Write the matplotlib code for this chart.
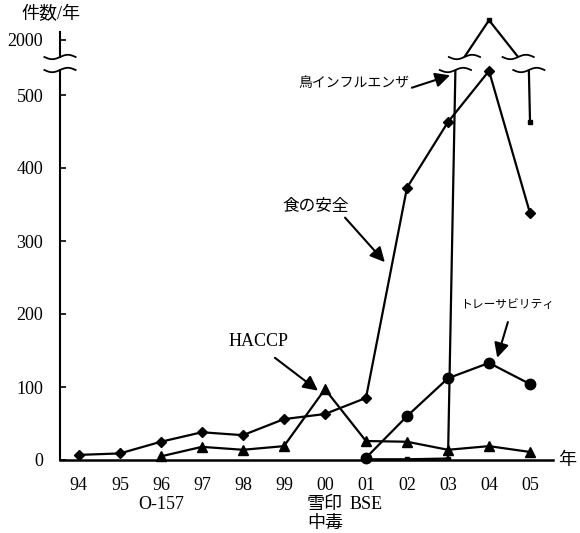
import numpy as np
import matplotlib
matplotlib.use('Agg')
import matplotlib.pyplot as plt

plt.rcParams['font.family'] = ['Liberation Serif', 'Noto Sans CJK JP']

# data (number of articles per year)
years = ['94', '95', '96', '97', '98', '99', '00', '01', '02', '03', '04', '05']
events = ['', '', 'O-157', '', '', '', '雪印\n中毒', 'BSE', '', '', '', '']
food_safety = [7, 9, 25, 38, 34, 56, 63, 85, 373, 463, 533, 338]
haccp = [np.nan, np.nan, 5, 18, 14, 19, 97, 26, 25, 14, 19, 11]
traceability = [np.nan] * 7 + [3, 60, 112, 133, 104]
bird_flu = [np.nan] * 7 + [1, 1, 2, 2950, 463]

x = np.arange(len(years))
W, H = 580, 533

fig = plt.figure(figsize=(W / 100, H / 100), dpi=100)
# lower part of the broken axis (0..~530) and the upper part (around 2000)
ax = fig.add_axes([60 / W, 73 / H, 493 / W, 390 / H])
axt = fig.add_axes([60 / W, (H - 57) / H, 493 / W, 42 / H], sharex=ax)

ax.set_xlim(-0.46, 11.56)
ax.set_ylim(0, 390 / 0.73)
axt.set_ylim(1184, 3200)

lw = 1.6
ax.plot(x, food_safety, color='black', lw=lw, marker='D', ms=5, clip_on=False)
ax.plot(x, haccp, color='black', lw=lw, marker='^', ms=7.5, clip_on=False)
ax.plot(x, traceability, color='black', lw=lw, marker='o', ms=7.5, clip_on=False)
ax.plot(x, bird_flu, color='black', lw=lw, marker='s', ms=3)
axt.plot(x, bird_flu, color='black', lw=lw, marker='s', ms=3)

# axes styling
for s in ['top', 'right']:
    ax.spines[s].set_visible(False)
for s in ['top', 'right', 'bottom']:
    axt.spines[s].set_visible(False)
ax.spines['left'].set_linewidth(1.5)
ax.spines['bottom'].set_linewidth(1.8)
axt.spines['left'].set_linewidth(1.5)
axt.spines['left'].set_bounds(1184, 2400)

ax.set_yticks([0, 100, 200, 300, 400, 500])
axt.set_yticks([2000])
for a in (ax, axt):
    a.tick_params(axis='y', direction='in', length=4, width=1.2, pad=12, labelsize=13)
axt.tick_params(axis='x', bottom=False, labelbottom=False)

labels = [y + ('\n' + e if e else '') for y, e in zip(years, events)]
ax.set_xticks(x)
ax.set_xticklabels(labels, fontsize=13, linespacing=1.15)
ax.tick_params(axis='x', length=0, pad=12)

# wavy break marks
def wave(a, xc, yax, half=0.38, amp_px=2.2):
    h = a.get_position().height * H
    t = np.linspace(-1, 1, 60)
    a.plot(xc + half * t, yax + (amp_px / h) * np.sin(np.pi * t),
           transform=a.get_xaxis_transform(), color='black', lw=1.3, clip_on=False)

def crossings(level):
    b = bird_flu
    left = 9 + (level - b[9]) / (b[10] - b[9])
    right = 10 + (b[10] - level) / (b[10] - b[11])
    return left, right

x0 = ax.get_xlim()[0]
wave(ax, x0, 1.0)
wave(axt, x0, 0.0)
for xc in crossings(ax.get_ylim()[1]):
    wave(ax, xc, 1.0)
for xc in crossings(axt.get_ylim()[0]):
    wave(axt, xc, 0.0)

# annotations
arrow = dict(arrowstyle='-|>', color='black', lw=1.5, mutation_scale=22,
             shrinkA=0, shrinkB=0)
ax.text(8.07, 516, '鳥インフルエンザ', fontsize=10, ha='right', va='center')
ax.annotate('', xy=(9.05, 527), xytext=(8.12, 510), arrowprops=arrow)

ax.text(5.78, 347, '食の安全', fontsize=12, ha='center', va='center')
ax.annotate('', xy=(7.46, 271), xytext=(6.49, 332), arrowprops=arrow)

ax.text(4.37, 162, 'HACCP', fontsize=13, ha='center', va='center')
ax.annotate('', xy=(5.83, 95), xytext=(4.78, 140), arrowprops=arrow)

ax.text(10.44, 212, 'トレーサビリティ', fontsize=8.5, ha='center', va='center')
ax.annotate('', xy=(10.2, 140), xytext=(10.46, 189), arrowprops=arrow)

fig.text(21 / W, 1 - 15 / H, '件数/年', fontsize=13, ha='left', va='center')
ax.text(1.028, 0, '年', transform=ax.transAxes, fontsize=13, ha='center', va='center')

fig.savefig('out.png', dpi=100)
